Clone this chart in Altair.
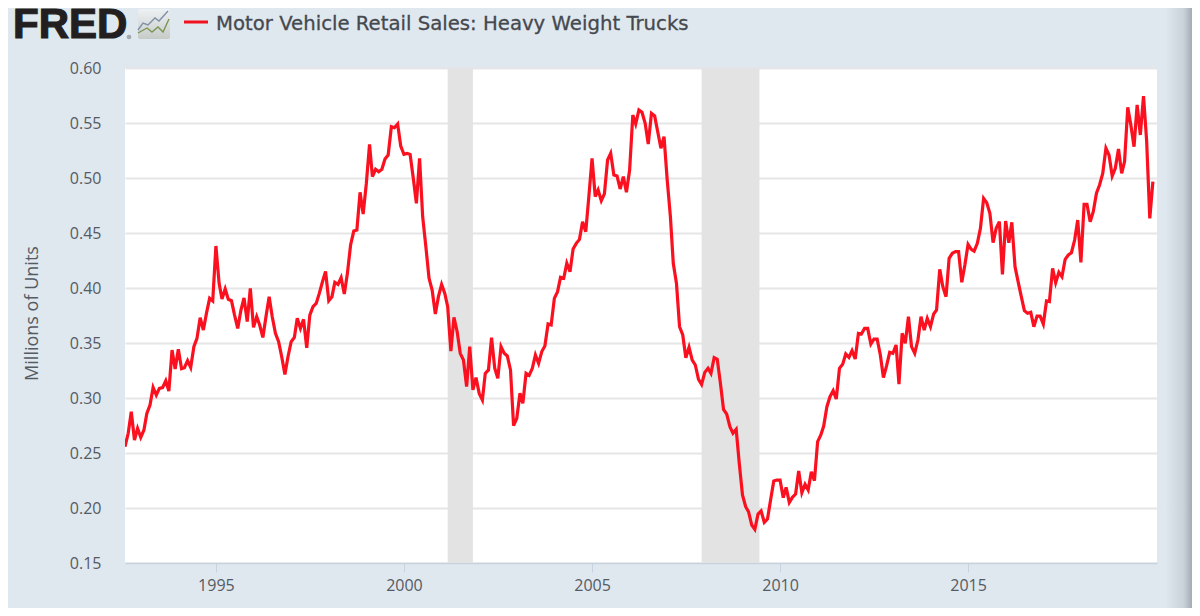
import altair as alt
import pandas as pd

alt.data_transformers.disable_max_rows()

# Monthly values (millions of units), Aug 1992 onward
seg_1992_1997 = [.2557,.2679,.2875,.2618,.2724,.2642,.2709,.2860,.2936,.3097,
 .3027,.3088,.3094,.3157,.3063,.3436,.3263,.3442,.3266,.3275,
 .3339,.3278,.3466,.3542,.3730,.3618,.3769,.3906,.3882,.4382,
 .4042,.3900,.3991,.3897,.3885,.3754,.3633,.3800,.3909,.3694,
 .3997,.3642,.3739,.3663,.3551,.3739,.3921,.3739,.3588,.3512,
 .3375,.3215,.3375,.3512,.3551,.3724,.3633,.3715,.3457,.3754,.3830]
seg_1997_2002 = [.3860,.3951,.4057,.4151,.3885,.3921,.4051,.4033,.4094,.3945,
 .4133,.4391,.4518,.4527,.4870,.4673,.4951,.5306,.5012,.5079,
 .5057,.5079,.5173,.5209,.5466,.5457,.5491,.5291,.5215,.5224,
 .5215,.4997,.4770,.5179,.4648,.4376,.4088,.3982,.3763,.3921,
 .4033,.3951,.3830,.3427,.3733,.3603,.3406,.3345,.3103,.3466,
 .3073,.3185,.3042,.2982,.3224,.3255,.3548,.3270,.3179]
seg_2002_2004 = [.3467,.3406,.3382,.3255,.2749,.2815,.3043,.2952,.3225,.3206,
 .3270,.3391,.3315,.3422,.3473,.3673,.3664,.3906,.3967,.4097,.4088,.4225]
seg_2004_2008 = [.4148,.4355,.4406,.4442,.4603,.4512,.4830,.5179,.4830,.4891,
 .4794,.4855,.5164,.5224,.5027,.5018,.4900,.5012,.4870,.5073,
 .5573,.5491,.5618,.5597,.5497,.5309,.5588,.5564,.5421,.5270,
 .5376,.4982,.4648,.4224,.4042,.3648,.3573,.3366,.3461,.3345,
 .3300,.3170,.3124,.3233,.3270,.3224,.3366,.3351]
seg_2008_2012 = [.3133,.2897,.2854,.2739,.2679,.2715,.2406,.2118,.2012,.1966,
 .1845,.1806,.1945,.1973,.1870,.1900,.2073,.2245,.2254,.2254,
 .2094,.2188,.2051,.2097,.2127,.2336,.2139,.2215,.2164,.2330,
 .2248,.2603,.2664,.2745,.2921,.3012,.3066,.2991,.3270,.3306,
 .3400,.3369,.3430,.3355]
seg_2012_2015 = [.3588,.3582,.3633,.3633,.3491,.3536,.3536,.3391,.3185,.3294,
 .3415,.3406,.3482,.3127,.3588,.3497,.3739,.3467,.3406,.3527,
 .3739,.3618,.3724,.3648,.3764,.3800,.4170,.4012,.3921,.4270,
 .4315,.4330,.4330,.4052,.4209,.4397,.4352,.4336,.4406,.4542,.4815]
seg_2015_2020 = [.4776,.4679,.4412,.4542,.4603,.4124,.4609,.4412,.4597,.4194,
 .4058,.3921,.3794,.3770,.3779,.3648,.3745,.3745,.3673,.3882,
 .3876,.4179,.4049,.4142,.4103,.4261,.4300,.4321,.4436,.4618,
 .4233,.4761,.4761,.4603,.4694,.4861,.4936,.5042,.5270,.5209,
 .5018,.5088,.5264,.5042,.5149,.5642,.5482,.5285,.5664,.5391,
 .5745,.5345,.4633,.4967]

values = (seg_1992_1997 + seg_1997_2002 + seg_2002_2004 + seg_2004_2008
          + seg_2008_2012 + seg_2012_2015 + seg_2015_2020)
dates = pd.date_range("1992-08-01", periods=len(values), freq="MS").strftime("%Y-%m-%d").tolist()

rec_start = ["2001-03-01", "2007-12-01"]
rec_end = ["2001-11-01", "2009-06-15"]
y_ticks = [0.15, 0.20, 0.25, 0.30, 0.35, 0.40, 0.45, 0.50, 0.55, 0.60]
x_ticks = [1995, 2000, 2005, 2010, 2015]

TITLE = "Motor Vehicle Retail Sales: Heavy Weight Trucks"
BG = "#dfe7ef"
RED = "#fb1020"
TXT = "#555b63"

# logo sparkline shapes (page-pixel decoration, relative to the plot origin)
icon_px = [13, 18, 23, 30, 34, 43]
icon_blue = [-38, -45, -43, -50, -47, -57]
icon_px2 = [13, 22, 27, 33, 38, 44]
icon_green = [-35, -40, -36, -41, -36, -49]

xs = alt.Scale(domain=["1992-08-01", "2020-01-10"])
ys = alt.Scale(domain=[0.15, 0.60])

df = pd.DataFrame({"date": dates, "value": values})
rec = pd.DataFrame({"s": rec_start, "e": rec_end})

bands = alt.Chart(rec).mark_rect(color="#e3e3e3").encode(
    x=alt.X("s:T", scale=xs, axis=alt.Axis(
        title=None, values=[alt.DateTime(year=y, month=1, date=1) for y in x_ticks],
        format="%Y", grid=False, domainColor="#c5d2e0", domainWidth=1.5,
        tickColor="#c5d2e0", tickSize=9, tickWidth=1, labelFont="Open Sans",
        labelFontSize=16, labelColor=TXT, labelPadding=5, labelFlush=False,
        labelOverlap=False)),
    x2="e:T",
)

line = alt.Chart(df).mark_line(color=RED, strokeWidth=3.2, strokeJoin="miter", clip=True).encode(
    x=alt.X("date:T", scale=xs),
    y=alt.Y("value:Q", scale=ys, axis=alt.Axis(
        title="Millions of Units", values=y_ticks, format=".2f", grid=True,
        gridColor="#e6e6e6", gridWidth=2, domain=False, ticks=False,
        labelFont="Open Sans", labelFontSize=16, labelColor=TXT, labelPadding=24,
        titleFont="Open Sans", titleFontSize=18, titleColor=TXT,
        titleFontWeight="normal", titleX=-84, titleY=245)),
)

one = pd.DataFrame({"a": [1]})

# right-hand shadow of the page
shadow = alt.Chart(one).mark_rect(
    color=alt.LinearGradient(gradient="linear", x1=0, x2=1, y1=0, y2=0,
                             stops=[alt.GradientStop(offset=0, color=BG),
                                    alt.GradientStop(offset=0.7, color="#c9d1d9"),
                                    alt.GradientStop(offset=1, color="#a4abb2")])
).encode(x=alt.value(1040), x2=alt.value(1067), y=alt.value(-60), y2=alt.value(540))

logo = alt.Chart(one).mark_text(
    text="FRED", font="Liberation Sans", fontWeight="bold", fontSize=42,
    align="left", baseline="alphabetic", color="#231f20", stroke="#231f20", strokeWidth=1.2,
).encode(x=alt.value(-112), y=alt.value(-30))

logo_dot = alt.Chart(one).mark_point(filled=True, color="#8a8f94", size=22).encode(
    x=alt.value(4), y=alt.value(-31))

icon_bg = alt.Chart(one).mark_rect(
    cornerRadius=2,
    color=alt.LinearGradient(gradient="linear", x1=0, x2=0, y1=0, y2=1,
                             stops=[alt.GradientStop(offset=0, color="#eef1f3"),
                                    alt.GradientStop(offset=1, color="#c6cbc8")])
).encode(x=alt.value(13), x2=alt.value(45), y=alt.value(-59), y2=alt.value(-29))

icon_l1 = alt.Chart(pd.DataFrame({"px": icon_px, "py": icon_blue})).mark_line(
    color="#7f90aa", strokeWidth=1.4).encode(
    x=alt.X("px:Q", scale=None), y=alt.Y("py:Q", scale=None))
icon_l2 = alt.Chart(pd.DataFrame({"px": icon_px2, "py": icon_green})).mark_line(
    color="#7b9552", strokeWidth=1.4).encode(
    x=alt.X("px:Q", scale=None), y=alt.Y("py:Q", scale=None))

legend_line = alt.Chart(one).mark_rule(color="#f0101e", strokeWidth=3).encode(
    x=alt.value(59), x2=alt.value(83), y=alt.value(-46))

legend_text = alt.Chart(one).mark_text(
    text=TITLE, font="DejaVu Sans", fontSize=19.7, align="left",
    baseline="middle", color="#45494e", stroke="#45494e", strokeWidth=0.3,
).encode(x=alt.value(91), y=alt.value(-44))

chart = alt.layer(
    bands, line, shadow, logo, logo_dot, icon_bg, icon_l1, icon_l2, legend_line, legend_text
).resolve_scale(x="shared", y="independent").properties(
    width=1032, height=495,
    padding={"left": 117, "top": 60, "right": 35, "bottom": 45},
    autosize=alt.AutoSizeParams(type="none"),
    background=BG,
).configure_view(fill="white", strokeWidth=0)

chart.save("out.html", embed_options={"renderer": "svg", "actions": False})
